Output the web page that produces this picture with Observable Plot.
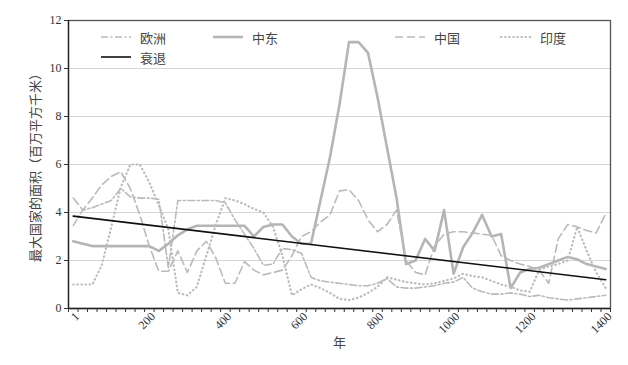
<!DOCTYPE html>
<html><head><meta charset="utf-8">
<script src="https://cdn.jsdelivr.net/npm/d3@7"></script>
<script src="https://cdn.jsdelivr.net/npm/@observablehq/plot@0.6"></script>
<style>
body{margin:0;background:#fff;}
#wrap{position:relative;width:628px;height:365px;}
.leg{position:absolute;font-family:"Noto Sans CJK SC",sans-serif;font-size:13px;color:#444;display:flex;align-items:center;white-space:nowrap;height:16px;}
.leg svg{margin-right:8px;}
</style></head><body><div id="wrap"></div>
<script>
const years = [1,25,50,75,100,125,150,175,200,225,250,275,300,325,350,375,400,425,450,475,500,525,550,575,600,625,650,675,700,725,750,775,800,825,850,875,900,925,950,975,1000,1025,1050,1075,1100,1125,1150,1175,1200,1225,1250,1275,1300,1325,1350,1375,1400];
const tickYears = [1,200,400,600,800,1000,1200,1400];
const europe = [3.45,4.1,4.2,4.35,4.5,5.0,4.65,4.6,4.6,4.55,1.7,4.5,4.5,4.5,4.5,4.5,4.4,3.7,3.1,2.5,1.8,1.85,2.5,2.45,2.3,1.3,1.15,1.1,1.05,1.0,0.95,0.95,1.05,1.25,0.9,0.85,0.85,0.9,0.95,1.05,1.1,1.3,0.85,0.7,0.6,0.6,0.65,0.6,0.5,0.55,0.45,0.4,0.35,0.4,0.45,0.5,0.55];
const middleEast = [2.8,2.7,2.6,2.6,2.6,2.6,2.6,2.6,2.6,2.4,2.7,3.05,3.3,3.45,3.45,3.45,3.45,3.45,3.45,3.0,3.4,3.5,3.5,3.0,2.7,2.7,4.5,6.3,8.5,11.1,11.1,10.65,8.8,6.7,4.6,1.85,2.0,2.9,2.4,4.1,1.45,2.55,3.15,3.9,3.0,3.1,0.85,1.5,1.65,1.7,1.85,2.0,2.15,2.05,1.85,1.75,1.65];
const china = [4.6,4.1,4.6,5.15,5.5,5.7,5.0,3.9,2.6,1.55,1.55,2.4,1.5,2.4,2.8,2.1,1.05,1.05,1.95,1.6,1.4,1.5,1.6,2.2,3.0,3.2,3.6,3.9,4.9,4.95,4.5,3.7,3.2,3.5,4.1,2.0,1.5,1.4,2.6,3.1,3.2,3.2,3.15,3.1,3.05,2.2,2.0,1.85,1.75,1.6,1.05,2.9,3.5,3.4,3.25,3.15,3.95];
const india = [1.0,1.0,1.0,1.8,3.4,5.05,6.0,6.0,5.25,4.3,3.3,0.65,0.55,0.9,2.2,3.5,4.6,4.5,4.35,4.15,4.0,3.4,2.2,0.55,0.8,1.0,0.85,0.65,0.4,0.35,0.45,0.65,0.9,1.3,1.2,1.1,1.05,1.0,1.05,1.15,1.25,1.45,1.35,1.3,1.15,1.0,0.9,0.75,0.7,1.6,1.75,1.85,2.0,3.4,2.4,1.5,0.85];
const trendYears = [1,1400];
const trendValues = [3.85,1.2];

const styles = {
  "欧洲": {stroke:"#bababa", strokeWidth:1.6, strokeDasharray:"7,2.5,2,2.5"},
  "中东": {stroke:"#b5b5b5", strokeWidth:2.6},
  "中国": {stroke:"#bababa", strokeWidth:1.6, strokeDasharray:"8,4"},
  "印度": {stroke:"#bcbcbc", strokeWidth:2.2, strokeDasharray:"0.5,3.6", strokeLinecap:"round"},
  "衰退": {stroke:"#111", strokeWidth:1.6}
};
const idx = y => years.indexOf(y);
const toRows = (vals) => vals.map((v,i)=>({i, v}));
const trendRows = trendYears.map((y,k)=>({i: idx(y), v: trendValues[k]}));

const fontSerif = "'Liberation Serif','Times New Roman',serif";
const chart = Plot.plot({
  width: 628, height: 365,
  marginLeft: 68, marginRight: 18, marginTop: 20, marginBottom: 57,
  x: {domain: [-0.5, years.length - 0.5]},
  y: {domain: [0, 12]},
  style: {background: "#fff", color: "#333"},
  marks: [
    Plot.gridY([2,4,6,8,10], {stroke:"#d6d6d6", strokeOpacity:1}),
    Plot.frame({stroke:"#555", strokeWidth:1.3}),
    Plot.line(toRows(europe), {x:"i", y:"v", ...styles["欧洲"]}),
    Plot.line(toRows(middleEast), {x:"i", y:"v", ...styles["中东"]}),
    Plot.line(toRows(china), {x:"i", y:"v", ...styles["中国"]}),
    Plot.line(toRows(india), {x:"i", y:"v", ...styles["印度"]}),
    Plot.line(trendRows, {x:"i", y:"v", ...styles["衰退"]}),
    Plot.ruleY([0], {stroke:"#222", strokeWidth:1.3}),
    Plot.ruleX([-0.5], {stroke:"#222", strokeWidth:1.3}),
    Plot.axisY([0,2,4,6,8,10,12], {tickSize:4, tickPadding:3, fontSize:12, fontFamily:fontSerif,
      label:"最大国家的面积（百万平方千米）", labelAnchor:"center", labelArrow:"none", labelOffset:38}),
    Plot.axisX(d3.range(-0.5, years.length, 1), {tickSize:4, tickFormat:()=>"", label:null}),
    Plot.axisX(tickYears.map(idx), {tickSize:0, tickPadding:5, tickRotate:-45, fontSize:12, fontFamily:fontSerif,
      dx:4, dy:1,
      tickFormat: i => String(years[i]), label:"年", labelAnchor:"center", labelArrow:"none", labelOffset:38})
  ]
});
const wrap = document.getElementById("wrap");
wrap.appendChild(chart);
chart.querySelectorAll('g[aria-label="y-axis label"] text, g[aria-label="x-axis label"] text').forEach(t=>{
  t.setAttribute("font-family","'Noto Sans CJK SC',sans-serif"); t.setAttribute("font-size","13"); t.setAttribute("fill","#444");
});

const legendPos = [
  {name:"欧洲", x:100, y:29},
  {name:"中东", x:212, y:29},
  {name:"中国", x:394, y:29},
  {name:"印度", x:500, y:29},
  {name:"衰退", x:100, y:49}
];
legendPos.forEach(p=>{
  const s = styles[p.name];
  const div = document.createElement("div");
  div.className = "leg";
  div.style.left = p.x + "px"; div.style.top = p.y + "px";
  div.innerHTML = `<svg width="32" height="6"><line x1="1" x2="31" y1="3" y2="3" stroke="${s.stroke}" stroke-width="${s.strokeWidth}" ${s.strokeDasharray?`stroke-dasharray="${s.strokeDasharray}"`:""} ${s.strokeLinecap?`stroke-linecap="${s.strokeLinecap}"`:""}/></svg><span>${p.name}</span>`;
  wrap.appendChild(div);
});
</script></body></html>
